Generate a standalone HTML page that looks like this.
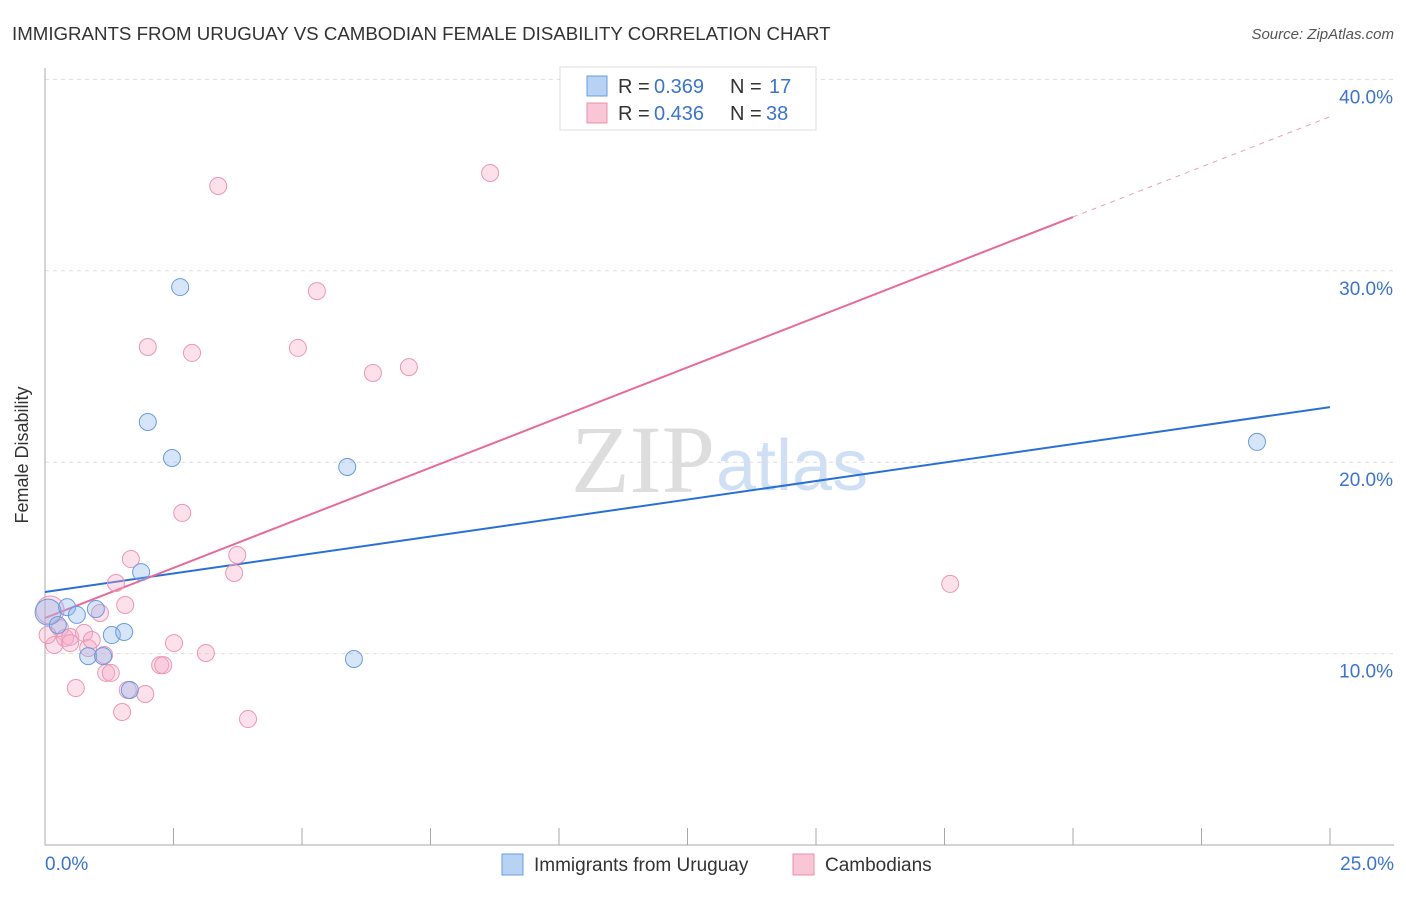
<!DOCTYPE html>
<html><head><meta charset="utf-8"><style>
body{margin:0;background:#fff;font-family:"Liberation Sans",sans-serif;}
</style></head><body>
<svg width="1406" height="892" viewBox="0 0 1406 892" xmlns="http://www.w3.org/2000/svg">
<text x="12" y="40" font-size="18.7" fill="#333">IMMIGRANTS FROM URUGUAY VS CAMBODIAN FEMALE DISABILITY CORRELATION CHART</text>
<text x="1394" y="39" font-size="15" fill="#555" font-style="italic" text-anchor="end">Source: ZipAtlas.com</text>
<text x="715" y="492" font-size="96" fill="#ddd" text-anchor="end" font-family="Liberation Serif,serif">ZIP</text>
<text x="716" y="490" font-size="72" fill="#cfe0f5">atlas</text>
<g id="grid"></g>
<g id="axes"></g>
<g id="lines"></g>
<g id="pts"></g>
<text x="28" y="455" font-size="18" fill="#333" transform="rotate(-90 28 455)" text-anchor="middle">Female Disability</text>
<g>
<rect x="560" y="67" width="256" height="63" fill="#fff" stroke="#ddd"/>
<rect x="587" y="76" width="20" height="20" fill="#b8d2f4" stroke="#6a9be0"/>
<text x="618" y="93" font-size="20" fill="#333">R =</text>
<text x="654" y="93" font-size="20" fill="#3a74d0">0.369</text>
<text x="730" y="93" font-size="20" fill="#333">N =</text>
<text x="769" y="93" font-size="20" fill="#3a74d0">17</text>
<rect x="587" y="103" width="20" height="20" fill="#f9c6d6" stroke="#e890b0"/>
<text x="618" y="120" font-size="20" fill="#333">R =</text>
<text x="654" y="120" font-size="20" fill="#3a74d0">0.436</text>
<text x="730" y="120" font-size="20" fill="#333">N =</text>
<text x="766" y="120" font-size="20" fill="#3a74d0">38</text>
</g>
<g>
<rect x="502" y="854" width="21" height="21" fill="#b8d2f4" stroke="#6a9be0"/>
<text x="534" y="871" font-size="19" fill="#333">Immigrants from Uruguay</text>
<rect x="793" y="854" width="21" height="21" fill="#f9c6d6" stroke="#e890b0"/>
<text x="825" y="871" font-size="19" fill="#333">Cambodians</text>
</g>
</svg>
<script>
const blueX=[0.06,0.43,0.25,0.62,0.99,0.84,1.13,1.30,1.54,1.87,2.00,2.47,2.63,1.65,5.88,6.01,23.58];
const blueY=[12.17,12.43,11.49,12.02,12.33,9.87,9.87,10.97,11.13,14.26,22.10,20.22,29.15,8.10,19.75,9.72,21.06];
const pinkX=[0.10,0.29,0.18,0.39,0.49,0.60,0.76,0.84,0.91,1.07,1.15,1.19,1.28,1.38,1.50,1.56,1.67,1.61,1.95,2.00,2.24,2.30,2.51,2.67,2.86,3.13,3.37,3.68,3.74,3.95,4.92,5.29,6.38,7.08,8.66,17.61,0.05,0.49];
const pinkY=[12.28,11.34,10.45,10.82,10.87,8.20,11.08,10.29,10.71,12.12,9.93,8.99,8.99,13.69,6.95,12.54,14.94,8.10,7.89,26.02,9.40,9.40,10.55,17.35,25.71,10.03,34.43,14.21,15.15,6.58,25.97,28.94,24.66,24.97,35.11,13.64,10.97,10.55];
const yTicks=[10,20,30,40];
const xTicks=[0,2.5,5,7.5,10,12.5,15,17.5,20,22.5,25];
const blueLine=[13.22,22.88];
const pinkLine=[11.86,1.0475,20];
const NS="http://www.w3.org/2000/svg";
const sx=v=>45+v/25*1285, sy=v=>845-v*19.14;
function mk(t,a,p){const e=document.createElementNS(NS,t);for(const k in a)e.setAttribute(k,a[k]);document.getElementById(p).appendChild(e);return e;}
yTicks.forEach(t=>{
 const l=mk('line',{x1:45,x2:1394,y1:sy(t),y2:sy(t),stroke:'#ddd','stroke-dasharray':'4 4'},'grid');
 
 
 const tx=mk('text',{x:1393,y:sy(t)+24,'font-size':19,fill:'#3a74d0','text-anchor':'end'},'grid');
 tx.textContent=t.toFixed(1)+'%';
 
 
});
const ax=mk('line',{x1:45,x2:45,y1:68,y2:845,stroke:'#aaa'},'axes');


const bx=mk('line',{x1:45,x2:1394,y1:845,y2:845,stroke:'#aaa'},'axes');


xTicks.forEach(t=>{
 const l=mk('line',{x1:sx(t),x2:sx(t),y1:828,y2:845,stroke:'#aaa'},'axes');
 
 
});
[[0,'0.0%','start',45],[25,'25.0%','end',1394]].forEach(d=>{
 const tx=mk('text',{x:d[3],y:870,'font-size':19,fill:'#3a74d0','text-anchor':d[2]},'axes');
 tx.textContent=d[1];
 
 
});
const bl=mk('line',{x1:sx(0),y1:sy(blueLine[0]),x2:sx(25),y2:sy(blueLine[1]),stroke:'#2a6fd6','stroke-width':2},'lines');


const pe=pinkLine[0]+pinkLine[1]*pinkLine[2];
const pl=mk('line',{x1:sx(0),y1:sy(pinkLine[0]),x2:sx(pinkLine[2]),y2:sy(pe),stroke:'#e8699a','stroke-width':2},'lines');


const pd=mk('line',{x1:sx(pinkLine[2]),y1:sy(pe),x2:sx(25),y2:sy(pinkLine[0]+pinkLine[1]*25),stroke:'#e8a0bc','stroke-width':1,'stroke-dasharray':'5 5'},'lines');


pinkX.forEach((x,i)=>{
 const c=mk('circle',{cx:sx(x),cy:sy(pinkY[i]),r:i==0?14:8.5,fill:'rgba(246,170,196,0.35)',stroke:'#eb96b6','stroke-width':1},'pts');
 
 
});
blueX.forEach((x,i)=>{
 const c=mk('circle',{cx:sx(x),cy:sy(blueY[i]),r:i==0?13:8.5,fill:'rgba(140,180,235,0.35)',stroke:'#6a9be0','stroke-width':1},'pts');
 
 
});
</script>
</body></html>
